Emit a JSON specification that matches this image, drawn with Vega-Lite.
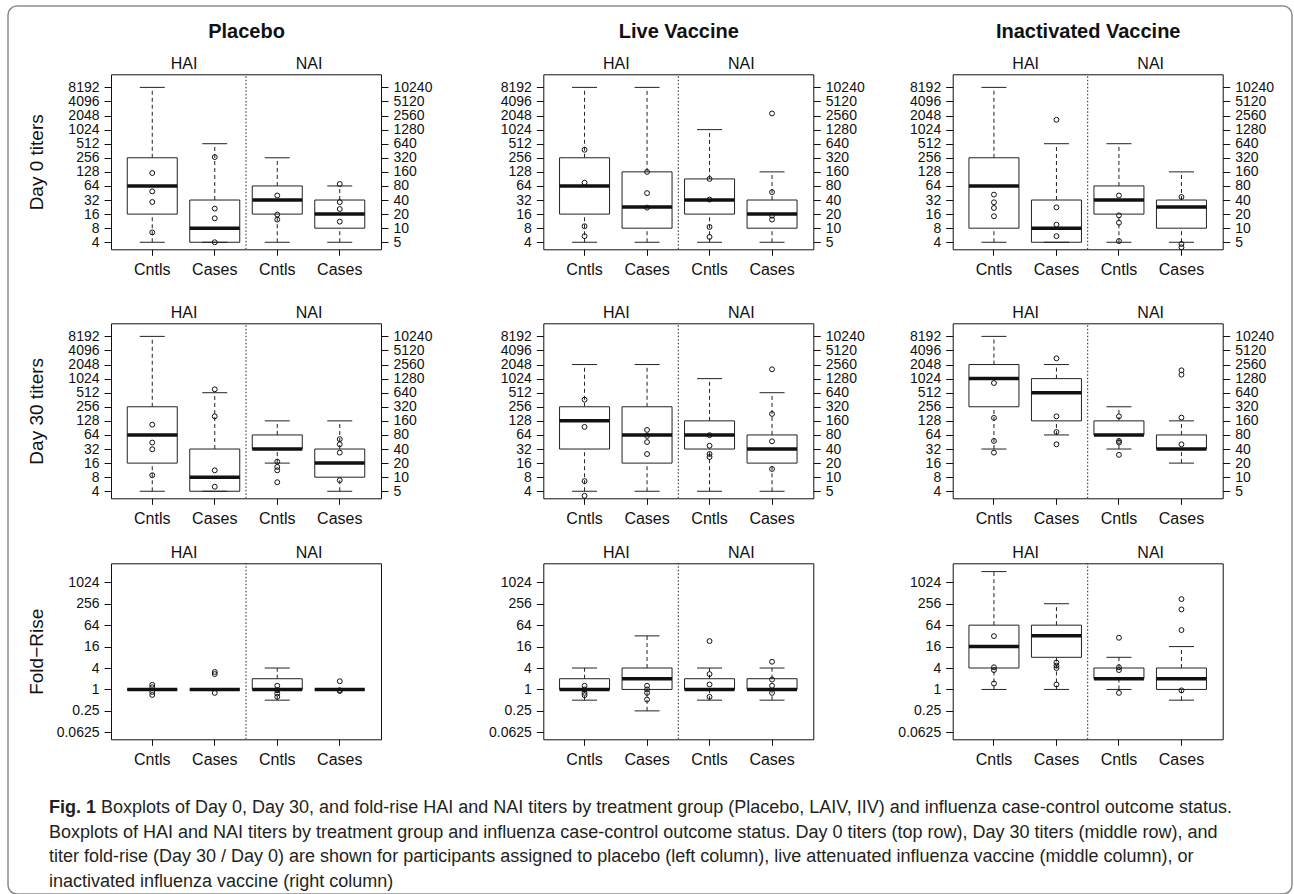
{
"$schema":"https://vega.github.io/schema/vega-lite/v6.json",
"width":1284,"height":888,"autosize":"none",
"padding":{"left":8,"top":6,"right":2,"bottom":0},
"background":"white",
"config":{
 "view":{"stroke":"#8c8c8c","strokeWidth":1.5,"cornerRadius":9},
 "tick":{"opacity":1},
 "point":{"opacity":1},
 "axis":{"grid":false,"labelFont":"Liberation Sans","titleFont":"Liberation Sans","labelColor":"#111","titleColor":"#111","domainColor":"#111","tickColor":"#111","labelOverlap":false,"labelFlush":false,"labelBound":false,"domainWidth":1,"tickWidth":1,"titleFontWeight":"normal"},
 "axisY":{"labelFontSize":14,"tickSize":7,"labelPadding":5},
 "axisX":{"labelFontSize":16,"tickSize":6,"labelPadding":6,"labelAngle":0},
 "text":{"font":"Liberation Sans"}
},
"datasets":{"d":[
{"t":"Placebo","m":"D0","a":"HAI","g":"Cntls","k":"box","lo":4,"q1":16,"med":64,"q3":256,"hi":8192},
{"t":"Placebo","m":"D0","a":"HAI","g":"Cases","k":"box","lo":4,"q1":4,"med":8,"q3":32,"hi":512},
{"t":"Placebo","m":"D0","a":"NAI","g":"Cntls","k":"box","lo":5,"q1":20,"med":40,"q3":80,"hi":320},
{"t":"Placebo","m":"D0","a":"NAI","g":"Cases","k":"box","lo":5,"q1":10,"med":20,"q3":40,"hi":80},
{"t":"Live","m":"D0","a":"HAI","g":"Cntls","k":"box","lo":4,"q1":16,"med":64,"q3":256,"hi":8192},
{"t":"Live","m":"D0","a":"HAI","g":"Cases","k":"box","lo":4,"q1":8,"med":22.6,"q3":128,"hi":8192},
{"t":"Live","m":"D0","a":"NAI","g":"Cntls","k":"box","lo":5,"q1":20,"med":40,"q3":113,"hi":1280},
{"t":"Live","m":"D0","a":"NAI","g":"Cases","k":"box","lo":5,"q1":10,"med":20,"q3":40,"hi":160},
{"t":"Inactivated","m":"D0","a":"HAI","g":"Cntls","k":"box","lo":4,"q1":8,"med":64,"q3":256,"hi":8192},
{"t":"Inactivated","m":"D0","a":"HAI","g":"Cases","k":"box","lo":4,"q1":4,"med":8,"q3":32,"hi":512},
{"t":"Inactivated","m":"D0","a":"NAI","g":"Cntls","k":"box","lo":5,"q1":20,"med":40,"q3":80,"hi":640},
{"t":"Inactivated","m":"D0","a":"NAI","g":"Cases","k":"box","lo":5,"q1":10,"med":28.3,"q3":40,"hi":160},
{"t":"Placebo","m":"D30","a":"HAI","g":"Cntls","k":"box","lo":4,"q1":16,"med":64,"q3":256,"hi":8192},
{"t":"Placebo","m":"D30","a":"HAI","g":"Cases","k":"box","lo":4,"q1":4,"med":8,"q3":32,"hi":512},
{"t":"Placebo","m":"D30","a":"NAI","g":"Cntls","k":"box","lo":20,"q1":40,"med":40,"q3":80,"hi":160},
{"t":"Placebo","m":"D30","a":"NAI","g":"Cases","k":"box","lo":5,"q1":10,"med":20,"q3":40,"hi":160},
{"t":"Live","m":"D30","a":"HAI","g":"Cntls","k":"box","lo":4,"q1":32,"med":128,"q3":256,"hi":2048},
{"t":"Live","m":"D30","a":"HAI","g":"Cases","k":"box","lo":4,"q1":16,"med":64,"q3":256,"hi":2048},
{"t":"Live","m":"D30","a":"NAI","g":"Cntls","k":"box","lo":5,"q1":40,"med":80,"q3":160,"hi":1280},
{"t":"Live","m":"D30","a":"NAI","g":"Cases","k":"box","lo":5,"q1":20,"med":40,"q3":80,"hi":640},
{"t":"Inactivated","m":"D30","a":"HAI","g":"Cntls","k":"box","lo":32,"q1":256,"med":1024,"q3":2048,"hi":8192},
{"t":"Inactivated","m":"D30","a":"HAI","g":"Cases","k":"box","lo":64,"q1":128,"med":512,"q3":1024,"hi":2048},
{"t":"Inactivated","m":"D30","a":"NAI","g":"Cntls","k":"box","lo":40,"q1":80,"med":80,"q3":160,"hi":320},
{"t":"Inactivated","m":"D30","a":"NAI","g":"Cases","k":"box","lo":20,"q1":40,"med":40,"q3":80,"hi":160},
{"t":"Placebo","m":"FR","a":"HAI","g":"Cntls","k":"box","lo":1,"q1":1,"med":1,"q3":1,"hi":1},
{"t":"Placebo","m":"FR","a":"HAI","g":"Cases","k":"box","lo":1,"q1":1,"med":1,"q3":1,"hi":1},
{"t":"Placebo","m":"FR","a":"NAI","g":"Cntls","k":"box","lo":0.5,"q1":1,"med":1,"q3":2,"hi":4},
{"t":"Placebo","m":"FR","a":"NAI","g":"Cases","k":"box","lo":1,"q1":1,"med":1,"q3":1,"hi":1},
{"t":"Live","m":"FR","a":"HAI","g":"Cntls","k":"box","lo":0.5,"q1":1,"med":1,"q3":2,"hi":4},
{"t":"Live","m":"FR","a":"HAI","g":"Cases","k":"box","lo":0.25,"q1":1,"med":2,"q3":4,"hi":32},
{"t":"Live","m":"FR","a":"NAI","g":"Cntls","k":"box","lo":0.5,"q1":1,"med":1,"q3":2,"hi":4},
{"t":"Live","m":"FR","a":"NAI","g":"Cases","k":"box","lo":0.5,"q1":1,"med":1,"q3":2,"hi":4},
{"t":"Inactivated","m":"FR","a":"HAI","g":"Cntls","k":"box","lo":1,"q1":4,"med":16,"q3":64,"hi":2048},
{"t":"Inactivated","m":"FR","a":"HAI","g":"Cases","k":"box","lo":1,"q1":8,"med":32,"q3":64,"hi":256},
{"t":"Inactivated","m":"FR","a":"NAI","g":"Cntls","k":"box","lo":1,"q1":2,"med":2,"q3":4,"hi":8},
{"t":"Inactivated","m":"FR","a":"NAI","g":"Cases","k":"box","lo":0.5,"q1":1,"med":2,"q3":4,"hi":16},
{"t":"Placebo","m":"D0","a":"HAI","g":"Cntls","k":"out","v":121},{"t":"Placebo","m":"D0","a":"HAI","g":"Cntls","k":"out","v":49},{"t":"Placebo","m":"D0","a":"HAI","g":"Cntls","k":"out","v":29},{"t":"Placebo","m":"D0","a":"HAI","g":"Cntls","k":"out","v":6.5},
{"t":"Placebo","m":"D0","a":"HAI","g":"Cases","k":"out","v":265},{"t":"Placebo","m":"D0","a":"HAI","g":"Cases","k":"out","v":21},{"t":"Placebo","m":"D0","a":"HAI","g":"Cases","k":"out","v":13},{"t":"Placebo","m":"D0","a":"HAI","g":"Cases","k":"out","v":4},
{"t":"Placebo","m":"D0","a":"NAI","g":"Cntls","k":"out","v":50},{"t":"Placebo","m":"D0","a":"NAI","g":"Cntls","k":"out","v":19.5},{"t":"Placebo","m":"D0","a":"NAI","g":"Cntls","k":"out","v":15.3},
{"t":"Placebo","m":"D0","a":"NAI","g":"Cases","k":"out","v":88},{"t":"Placebo","m":"D0","a":"NAI","g":"Cases","k":"out","v":36},{"t":"Placebo","m":"D0","a":"NAI","g":"Cases","k":"out","v":25.7},{"t":"Placebo","m":"D0","a":"NAI","g":"Cases","k":"out","v":13.8},
{"t":"Live","m":"D0","a":"HAI","g":"Cntls","k":"out","v":380},{"t":"Live","m":"D0","a":"HAI","g":"Cntls","k":"out","v":75},{"t":"Live","m":"D0","a":"HAI","g":"Cntls","k":"out","v":8.8},{"t":"Live","m":"D0","a":"HAI","g":"Cntls","k":"out","v":5.4},
{"t":"Live","m":"D0","a":"HAI","g":"Cases","k":"out","v":128},{"t":"Live","m":"D0","a":"HAI","g":"Cases","k":"out","v":45},{"t":"Live","m":"D0","a":"HAI","g":"Cases","k":"out","v":22},
{"t":"Live","m":"D0","a":"NAI","g":"Cntls","k":"out","v":113},{"t":"Live","m":"D0","a":"NAI","g":"Cntls","k":"out","v":41},{"t":"Live","m":"D0","a":"NAI","g":"Cntls","k":"out","v":10.6},{"t":"Live","m":"D0","a":"NAI","g":"Cntls","k":"out","v":6.5},
{"t":"Live","m":"D0","a":"NAI","g":"Cases","k":"out","v":2840},{"t":"Live","m":"D0","a":"NAI","g":"Cases","k":"out","v":59},{"t":"Live","m":"D0","a":"NAI","g":"Cases","k":"out","v":18.5},{"t":"Live","m":"D0","a":"NAI","g":"Cases","k":"out","v":15.3},
{"t":"Inactivated","m":"D0","a":"HAI","g":"Cntls","k":"out","v":41.7},{"t":"Inactivated","m":"D0","a":"HAI","g":"Cntls","k":"out","v":28.6},{"t":"Inactivated","m":"D0","a":"HAI","g":"Cntls","k":"out","v":21.6},{"t":"Inactivated","m":"D0","a":"HAI","g":"Cntls","k":"out","v":14.4},
{"t":"Inactivated","m":"D0","a":"HAI","g":"Cases","k":"out","v":1660},{"t":"Inactivated","m":"D0","a":"HAI","g":"Cases","k":"out","v":22.3},{"t":"Inactivated","m":"D0","a":"HAI","g":"Cases","k":"out","v":9.5},{"t":"Inactivated","m":"D0","a":"HAI","g":"Cases","k":"out","v":5.4},
{"t":"Inactivated","m":"D0","a":"NAI","g":"Cntls","k":"out","v":50},{"t":"Inactivated","m":"D0","a":"NAI","g":"Cntls","k":"out","v":18.8},{"t":"Inactivated","m":"D0","a":"NAI","g":"Cntls","k":"out","v":13.1},{"t":"Inactivated","m":"D0","a":"NAI","g":"Cntls","k":"out","v":5.3},
{"t":"Inactivated","m":"D0","a":"NAI","g":"Cases","k":"out","v":46.5},{"t":"Inactivated","m":"D0","a":"NAI","g":"Cases","k":"out","v":4.6},{"t":"Inactivated","m":"D0","a":"NAI","g":"Cases","k":"out","v":3.9},
{"t":"Placebo","m":"D30","a":"HAI","g":"Cntls","k":"out","v":106},{"t":"Placebo","m":"D30","a":"HAI","g":"Cntls","k":"out","v":44},{"t":"Placebo","m":"D30","a":"HAI","g":"Cntls","k":"out","v":31.6},{"t":"Placebo","m":"D30","a":"HAI","g":"Cntls","k":"out","v":8.8},
{"t":"Placebo","m":"D30","a":"HAI","g":"Cases","k":"out","v":605},{"t":"Placebo","m":"D30","a":"HAI","g":"Cases","k":"out","v":160},{"t":"Placebo","m":"D30","a":"HAI","g":"Cases","k":"out","v":11.2},{"t":"Placebo","m":"D30","a":"HAI","g":"Cases","k":"out","v":5},
{"t":"Placebo","m":"D30","a":"NAI","g":"Cntls","k":"out","v":21.5},{"t":"Placebo","m":"D30","a":"NAI","g":"Cntls","k":"out","v":16.6},{"t":"Placebo","m":"D30","a":"NAI","g":"Cntls","k":"out","v":14},{"t":"Placebo","m":"D30","a":"NAI","g":"Cntls","k":"out","v":7.8},
{"t":"Placebo","m":"D30","a":"NAI","g":"Cases","k":"out","v":65},{"t":"Placebo","m":"D30","a":"NAI","g":"Cases","k":"out","v":50.5},{"t":"Placebo","m":"D30","a":"NAI","g":"Cases","k":"out","v":33.5},{"t":"Placebo","m":"D30","a":"NAI","g":"Cases","k":"out","v":8.6},
{"t":"Live","m":"D30","a":"HAI","g":"Cntls","k":"out","v":364},{"t":"Live","m":"D30","a":"HAI","g":"Cntls","k":"out","v":95},{"t":"Live","m":"D30","a":"HAI","g":"Cntls","k":"out","v":6.6},{"t":"Live","m":"D30","a":"HAI","g":"Cntls","k":"out","v":3.2},
{"t":"Live","m":"D30","a":"HAI","g":"Cases","k":"out","v":82},{"t":"Live","m":"D30","a":"HAI","g":"Cases","k":"out","v":61},{"t":"Live","m":"D30","a":"HAI","g":"Cases","k":"out","v":45},{"t":"Live","m":"D30","a":"HAI","g":"Cases","k":"out","v":25},
{"t":"Live","m":"D30","a":"NAI","g":"Cntls","k":"out","v":79},{"t":"Live","m":"D30","a":"NAI","g":"Cntls","k":"out","v":47},{"t":"Live","m":"D30","a":"NAI","g":"Cntls","k":"out","v":31.3},{"t":"Live","m":"D30","a":"NAI","g":"Cntls","k":"out","v":27},
{"t":"Live","m":"D30","a":"NAI","g":"Cases","k":"out","v":2025},{"t":"Live","m":"D30","a":"NAI","g":"Cases","k":"out","v":225},{"t":"Live","m":"D30","a":"NAI","g":"Cases","k":"out","v":58.5},{"t":"Live","m":"D30","a":"NAI","g":"Cases","k":"out","v":15},
{"t":"Inactivated","m":"D30","a":"HAI","g":"Cntls","k":"out","v":825},{"t":"Inactivated","m":"D30","a":"HAI","g":"Cntls","k":"out","v":148},{"t":"Inactivated","m":"D30","a":"HAI","g":"Cntls","k":"out","v":47.6},{"t":"Inactivated","m":"D30","a":"HAI","g":"Cntls","k":"out","v":26.8},
{"t":"Inactivated","m":"D30","a":"HAI","g":"Cases","k":"out","v":2780},{"t":"Inactivated","m":"D30","a":"HAI","g":"Cases","k":"out","v":160},{"t":"Inactivated","m":"D30","a":"HAI","g":"Cases","k":"out","v":74},{"t":"Inactivated","m":"D30","a":"HAI","g":"Cases","k":"out","v":40.4},
{"t":"Inactivated","m":"D30","a":"NAI","g":"Cntls","k":"out","v":200},{"t":"Inactivated","m":"D30","a":"NAI","g":"Cntls","k":"out","v":59.5},{"t":"Inactivated","m":"D30","a":"NAI","g":"Cntls","k":"out","v":55},{"t":"Inactivated","m":"D30","a":"NAI","g":"Cntls","k":"out","v":30},
{"t":"Inactivated","m":"D30","a":"NAI","g":"Cases","k":"out","v":1925},{"t":"Inactivated","m":"D30","a":"NAI","g":"Cases","k":"out","v":1556},{"t":"Inactivated","m":"D30","a":"NAI","g":"Cases","k":"out","v":188},{"t":"Inactivated","m":"D30","a":"NAI","g":"Cases","k":"out","v":50.5},
{"t":"Placebo","m":"FR","a":"HAI","g":"Cntls","k":"out","v":1.35},{"t":"Placebo","m":"FR","a":"HAI","g":"Cntls","k":"out","v":1.15},{"t":"Placebo","m":"FR","a":"HAI","g":"Cntls","k":"out","v":0.85},{"t":"Placebo","m":"FR","a":"HAI","g":"Cntls","k":"out","v":0.7},
{"t":"Placebo","m":"FR","a":"HAI","g":"Cases","k":"out","v":3.1},{"t":"Placebo","m":"FR","a":"HAI","g":"Cases","k":"out","v":2.7},{"t":"Placebo","m":"FR","a":"HAI","g":"Cases","k":"out","v":0.8},
{"t":"Placebo","m":"FR","a":"NAI","g":"Cntls","k":"out","v":1.27},{"t":"Placebo","m":"FR","a":"NAI","g":"Cntls","k":"out","v":0.95},{"t":"Placebo","m":"FR","a":"NAI","g":"Cntls","k":"out","v":0.77},{"t":"Placebo","m":"FR","a":"NAI","g":"Cntls","k":"out","v":0.62},
{"t":"Placebo","m":"FR","a":"NAI","g":"Cases","k":"out","v":1.7},{"t":"Placebo","m":"FR","a":"NAI","g":"Cases","k":"out","v":0.95},{"t":"Placebo","m":"FR","a":"NAI","g":"Cases","k":"out","v":0.9},
{"t":"Live","m":"FR","a":"HAI","g":"Cntls","k":"out","v":1.27},{"t":"Live","m":"FR","a":"HAI","g":"Cntls","k":"out","v":1},{"t":"Live","m":"FR","a":"HAI","g":"Cntls","k":"out","v":0.8},{"t":"Live","m":"FR","a":"HAI","g":"Cntls","k":"out","v":0.69},
{"t":"Live","m":"FR","a":"HAI","g":"Cases","k":"out","v":1.27},{"t":"Live","m":"FR","a":"HAI","g":"Cases","k":"out","v":1},{"t":"Live","m":"FR","a":"HAI","g":"Cases","k":"out","v":0.8},{"t":"Live","m":"FR","a":"HAI","g":"Cases","k":"out","v":0.52},
{"t":"Live","m":"FR","a":"NAI","g":"Cntls","k":"out","v":22.8},{"t":"Live","m":"FR","a":"NAI","g":"Cntls","k":"out","v":2.7},{"t":"Live","m":"FR","a":"NAI","g":"Cntls","k":"out","v":1.38},{"t":"Live","m":"FR","a":"NAI","g":"Cntls","k":"out","v":0.62},
{"t":"Live","m":"FR","a":"NAI","g":"Cases","k":"out","v":6},{"t":"Live","m":"FR","a":"NAI","g":"Cases","k":"out","v":1.9},{"t":"Live","m":"FR","a":"NAI","g":"Cases","k":"out","v":1.27},{"t":"Live","m":"FR","a":"NAI","g":"Cases","k":"out","v":0.8},
{"t":"Inactivated","m":"FR","a":"HAI","g":"Cntls","k":"out","v":31.5},{"t":"Inactivated","m":"FR","a":"HAI","g":"Cntls","k":"out","v":4.2},{"t":"Inactivated","m":"FR","a":"HAI","g":"Cntls","k":"out","v":3.5},{"t":"Inactivated","m":"FR","a":"HAI","g":"Cntls","k":"out","v":1.47},
{"t":"Inactivated","m":"FR","a":"HAI","g":"Cases","k":"out","v":5.7},{"t":"Inactivated","m":"FR","a":"HAI","g":"Cases","k":"out","v":4.7},{"t":"Inactivated","m":"FR","a":"HAI","g":"Cases","k":"out","v":4},{"t":"Inactivated","m":"FR","a":"HAI","g":"Cases","k":"out","v":1.38},
{"t":"Inactivated","m":"FR","a":"NAI","g":"Cntls","k":"out","v":28.3},{"t":"Inactivated","m":"FR","a":"NAI","g":"Cntls","k":"out","v":4.2},{"t":"Inactivated","m":"FR","a":"NAI","g":"Cntls","k":"out","v":3.5},{"t":"Inactivated","m":"FR","a":"NAI","g":"Cntls","k":"out","v":0.8},
{"t":"Inactivated","m":"FR","a":"NAI","g":"Cases","k":"out","v":345},{"t":"Inactivated","m":"FR","a":"NAI","g":"Cases","k":"out","v":177},{"t":"Inactivated","m":"FR","a":"NAI","g":"Cases","k":"out","v":46.5},{"t":"Inactivated","m":"FR","a":"NAI","g":"Cases","k":"out","v":0.94}
]},
"data":{"name":"d"},
"resolve":{"scale":{"x":"independent","y":"independent"}},
"layer":[
{"transform":[{"filter":"datum.t=='Placebo' && datum.m=='D0'"}],"resolve":{"scale":{"x":"independent","y":"independent"}},"layer":[
 {"transform":[{"filter":"datum.a=='HAI'"}],"encoding":{
  "x":{"field":"g","type":"nominal","scale":{"type":"band","domain":["Cntls","Cases"],"range":[103,238],"paddingInner":0,"paddingOuter":0.08,"align":1},"axis":{"orient":"bottom","offset":-644.7,"title":null}},
  "y":{"field":"med","type":"quantitative","scale":{"type":"log","base":2,"domain":[2.828,15600],"range":[243.3,68.3],"nice":false,"zero":false},"axis":{"orient":"left","offset":-103,"values":[4,8,16,32,64,128,256,512,1024,2048,4096,8192],"labelExpr":"''+datum.value","title":"Day 0 titers","titleX":-75,"titleAngle":-90,"titleBaseline":"middle","titleAlign":"center","titleFontSize":19}}},
  "layer":[{"transform":[{"filter":"datum.k=='box'"}],"layer":[
   {"mark":{"type":"rule","strokeDash":[4,3],"color":"#222"},"encoding":{"y":{"field":"lo"},"y2":{"field":"q1"}}},
   {"mark":{"type":"rule","strokeDash":[4,3],"color":"#222"},"encoding":{"y":{"field":"q3"},"y2":{"field":"hi"}}},
   {"mark":{"type":"bar","width":50,"fill":"white","stroke":"#222","strokeWidth":1},"encoding":{"y":{"field":"q1"},"y2":{"field":"q3"}}},
   {"mark":{"type":"tick","size":25,"thickness":1,"color":"#222","opacity":1},"encoding":{"y":{"field":"lo"}}},
   {"mark":{"type":"tick","size":25,"thickness":1,"color":"#222","opacity":1},"encoding":{"y":{"field":"hi"}}},
   {"mark":{"type":"tick","size":50,"thickness":3.5,"color":"#111","opacity":1},"encoding":{"y":{"field":"med"}}}]},
   {"transform":[{"filter":"datum.k=='out'"}],"mark":{"type":"point","shape":"circle","filled":false,"size":24,"strokeWidth":1,"color":"#111","opacity":1},"encoding":{"y":{"field":"v"}}}]},
 {"transform":[{"filter":"datum.a=='NAI'"}],"encoding":{
  "x":{"field":"g","type":"nominal","scale":{"type":"band","domain":["Cntls","Cases"],"range":[238,373],"paddingInner":0,"paddingOuter":0.08,"align":0},"axis":{"orient":"bottom","offset":-644.7,"title":null}},
  "y":{"field":"med","type":"quantitative","scale":{"type":"log","base":2,"domain":[3.536,19500],"range":[243.3,68.3],"nice":false,"zero":false},"axis":{"orient":"right","offset":-911,"values":[5,10,20,40,80,160,320,640,1280,2560,5120,10240],"labelExpr":"''+datum.value","title":null}}},
  "layer":[{"transform":[{"filter":"datum.k=='box'"}],"layer":[
   {"mark":{"type":"rule","strokeDash":[4,3],"color":"#222"},"encoding":{"y":{"field":"lo"},"y2":{"field":"q1"}}},
   {"mark":{"type":"rule","strokeDash":[4,3],"color":"#222"},"encoding":{"y":{"field":"q3"},"y2":{"field":"hi"}}},
   {"mark":{"type":"bar","width":50,"fill":"white","stroke":"#222","strokeWidth":1},"encoding":{"y":{"field":"q1"},"y2":{"field":"q3"}}},
   {"mark":{"type":"tick","size":25,"thickness":1,"color":"#222","opacity":1},"encoding":{"y":{"field":"lo"}}},
   {"mark":{"type":"tick","size":25,"thickness":1,"color":"#222","opacity":1},"encoding":{"y":{"field":"hi"}}},
   {"mark":{"type":"tick","size":50,"thickness":3.5,"color":"#111","opacity":1},"encoding":{"y":{"field":"med"}}}]},
   {"transform":[{"filter":"datum.k=='out'"}],"mark":{"type":"point","shape":"circle","filled":false,"size":24,"strokeWidth":1,"color":"#111","opacity":1},"encoding":{"y":{"field":"v"}}}]},
 {"data":{"values":[{}]},"mark":{"type":"rule","strokeDash":[1.5,2],"color":"#222","strokeWidth":1},"encoding":{
  "x":{"datum":2.5,"type":"quantitative","scale":{"domain":[0.34,4.66],"range":[103,373],"nice":false,"zero":false},"axis":{"orient":"top","offset":-68.3,"values":[1.5,3.5],"labelExpr":"datum.value < 2.5 ? 'HAI' : 'NAI'","ticks":false,"tickSize":0,"labelPadding":6,"labelBaseline":"alphabetic","labelFontSize":16,"title":"Placebo","titleFontSize":20,"titleFontWeight":"bold","titleY":-37,"titleBaseline":"alphabetic"}},
  "y":{"datum":0,"type":"quantitative","scale":{"domain":[0,1],"range":[243.3,68.3],"nice":false,"zero":false},"axis":null},
  "y2":{"datum":1}}}
]},
{"transform":[{"filter":"datum.t=='Live' && datum.m=='D0'"}],"resolve":{"scale":{"x":"independent","y":"independent"}},"layer":[
 {"transform":[{"filter":"datum.a=='HAI'"}],"encoding":{
  "x":{"field":"g","type":"nominal","scale":{"type":"band","domain":["Cntls","Cases"],"range":[535.3,670.3],"paddingInner":0,"paddingOuter":0.08,"align":1},"axis":{"orient":"bottom","offset":-644.7,"title":null}},
  "y":{"field":"med","type":"quantitative","scale":{"type":"log","base":2,"domain":[2.828,15600],"range":[243.3,68.3],"nice":false,"zero":false},"axis":{"orient":"left","offset":-535.3,"values":[4,8,16,32,64,128,256,512,1024,2048,4096,8192],"labelExpr":"''+datum.value","title":null}}},
  "layer":[{"transform":[{"filter":"datum.k=='box'"}],"layer":[
   {"mark":{"type":"rule","strokeDash":[4,3],"color":"#222"},"encoding":{"y":{"field":"lo"},"y2":{"field":"q1"}}},
   {"mark":{"type":"rule","strokeDash":[4,3],"color":"#222"},"encoding":{"y":{"field":"q3"},"y2":{"field":"hi"}}},
   {"mark":{"type":"bar","width":50,"fill":"white","stroke":"#222","strokeWidth":1},"encoding":{"y":{"field":"q1"},"y2":{"field":"q3"}}},
   {"mark":{"type":"tick","size":25,"thickness":1,"color":"#222","opacity":1},"encoding":{"y":{"field":"lo"}}},
   {"mark":{"type":"tick","size":25,"thickness":1,"color":"#222","opacity":1},"encoding":{"y":{"field":"hi"}}},
   {"mark":{"type":"tick","size":50,"thickness":3.5,"color":"#111","opacity":1},"encoding":{"y":{"field":"med"}}}]},
   {"transform":[{"filter":"datum.k=='out'"}],"mark":{"type":"point","shape":"circle","filled":false,"size":24,"strokeWidth":1,"color":"#111","opacity":1},"encoding":{"y":{"field":"v"}}}]},
 {"transform":[{"filter":"datum.a=='NAI'"}],"encoding":{
  "x":{"field":"g","type":"nominal","scale":{"type":"band","domain":["Cntls","Cases"],"range":[670.3,805.3],"paddingInner":0,"paddingOuter":0.08,"align":0},"axis":{"orient":"bottom","offset":-644.7,"title":null}},
  "y":{"field":"med","type":"quantitative","scale":{"type":"log","base":2,"domain":[3.536,19500],"range":[243.3,68.3],"nice":false,"zero":false},"axis":{"orient":"right","offset":-478.7,"values":[5,10,20,40,80,160,320,640,1280,2560,5120,10240],"labelExpr":"''+datum.value","title":null}}},
  "layer":[{"transform":[{"filter":"datum.k=='box'"}],"layer":[
   {"mark":{"type":"rule","strokeDash":[4,3],"color":"#222"},"encoding":{"y":{"field":"lo"},"y2":{"field":"q1"}}},
   {"mark":{"type":"rule","strokeDash":[4,3],"color":"#222"},"encoding":{"y":{"field":"q3"},"y2":{"field":"hi"}}},
   {"mark":{"type":"bar","width":50,"fill":"white","stroke":"#222","strokeWidth":1},"encoding":{"y":{"field":"q1"},"y2":{"field":"q3"}}},
   {"mark":{"type":"tick","size":25,"thickness":1,"color":"#222","opacity":1},"encoding":{"y":{"field":"lo"}}},
   {"mark":{"type":"tick","size":25,"thickness":1,"color":"#222","opacity":1},"encoding":{"y":{"field":"hi"}}},
   {"mark":{"type":"tick","size":50,"thickness":3.5,"color":"#111","opacity":1},"encoding":{"y":{"field":"med"}}}]},
   {"transform":[{"filter":"datum.k=='out'"}],"mark":{"type":"point","shape":"circle","filled":false,"size":24,"strokeWidth":1,"color":"#111","opacity":1},"encoding":{"y":{"field":"v"}}}]},
 {"data":{"values":[{}]},"mark":{"type":"rule","strokeDash":[1.5,2],"color":"#222","strokeWidth":1},"encoding":{
  "x":{"datum":2.5,"type":"quantitative","scale":{"domain":[0.34,4.66],"range":[535.3,805.3],"nice":false,"zero":false},"axis":{"orient":"top","offset":-68.3,"values":[1.5,3.5],"labelExpr":"datum.value < 2.5 ? 'HAI' : 'NAI'","ticks":false,"tickSize":0,"labelPadding":6,"labelBaseline":"alphabetic","labelFontSize":16,"title":"Live Vaccine","titleFontSize":20,"titleFontWeight":"bold","titleY":-37,"titleBaseline":"alphabetic"}},
  "y":{"datum":0,"type":"quantitative","scale":{"domain":[0,1],"range":[243.3,68.3],"nice":false,"zero":false},"axis":null},
  "y2":{"datum":1}}}
]},
{"transform":[{"filter":"datum.t=='Inactivated' && datum.m=='D0'"}],"resolve":{"scale":{"x":"independent","y":"independent"}},"layer":[
 {"transform":[{"filter":"datum.a=='HAI'"}],"encoding":{
  "x":{"field":"g","type":"nominal","scale":{"type":"band","domain":["Cntls","Cases"],"range":[944.7,1079.7],"paddingInner":0,"paddingOuter":0.08,"align":1},"axis":{"orient":"bottom","offset":-644.7,"title":null}},
  "y":{"field":"med","type":"quantitative","scale":{"type":"log","base":2,"domain":[2.828,15600],"range":[243.3,68.3],"nice":false,"zero":false},"axis":{"orient":"left","offset":-944.7,"values":[4,8,16,32,64,128,256,512,1024,2048,4096,8192],"labelExpr":"''+datum.value","title":null}}},
  "layer":[{"transform":[{"filter":"datum.k=='box'"}],"layer":[
   {"mark":{"type":"rule","strokeDash":[4,3],"color":"#222"},"encoding":{"y":{"field":"lo"},"y2":{"field":"q1"}}},
   {"mark":{"type":"rule","strokeDash":[4,3],"color":"#222"},"encoding":{"y":{"field":"q3"},"y2":{"field":"hi"}}},
   {"mark":{"type":"bar","width":50,"fill":"white","stroke":"#222","strokeWidth":1},"encoding":{"y":{"field":"q1"},"y2":{"field":"q3"}}},
   {"mark":{"type":"tick","size":25,"thickness":1,"color":"#222","opacity":1},"encoding":{"y":{"field":"lo"}}},
   {"mark":{"type":"tick","size":25,"thickness":1,"color":"#222","opacity":1},"encoding":{"y":{"field":"hi"}}},
   {"mark":{"type":"tick","size":50,"thickness":3.5,"color":"#111","opacity":1},"encoding":{"y":{"field":"med"}}}]},
   {"transform":[{"filter":"datum.k=='out'"}],"mark":{"type":"point","shape":"circle","filled":false,"size":24,"strokeWidth":1,"color":"#111","opacity":1},"encoding":{"y":{"field":"v"}}}]},
 {"transform":[{"filter":"datum.a=='NAI'"}],"encoding":{
  "x":{"field":"g","type":"nominal","scale":{"type":"band","domain":["Cntls","Cases"],"range":[1079.7,1214.7],"paddingInner":0,"paddingOuter":0.08,"align":0},"axis":{"orient":"bottom","offset":-644.7,"title":null}},
  "y":{"field":"med","type":"quantitative","scale":{"type":"log","base":2,"domain":[3.536,19500],"range":[243.3,68.3],"nice":false,"zero":false},"axis":{"orient":"right","offset":-69.3,"values":[5,10,20,40,80,160,320,640,1280,2560,5120,10240],"labelExpr":"''+datum.value","title":null}}},
  "layer":[{"transform":[{"filter":"datum.k=='box'"}],"layer":[
   {"mark":{"type":"rule","strokeDash":[4,3],"color":"#222"},"encoding":{"y":{"field":"lo"},"y2":{"field":"q1"}}},
   {"mark":{"type":"rule","strokeDash":[4,3],"color":"#222"},"encoding":{"y":{"field":"q3"},"y2":{"field":"hi"}}},
   {"mark":{"type":"bar","width":50,"fill":"white","stroke":"#222","strokeWidth":1},"encoding":{"y":{"field":"q1"},"y2":{"field":"q3"}}},
   {"mark":{"type":"tick","size":25,"thickness":1,"color":"#222","opacity":1},"encoding":{"y":{"field":"lo"}}},
   {"mark":{"type":"tick","size":25,"thickness":1,"color":"#222","opacity":1},"encoding":{"y":{"field":"hi"}}},
   {"mark":{"type":"tick","size":50,"thickness":3.5,"color":"#111","opacity":1},"encoding":{"y":{"field":"med"}}}]},
   {"transform":[{"filter":"datum.k=='out'"}],"mark":{"type":"point","shape":"circle","filled":false,"size":24,"strokeWidth":1,"color":"#111","opacity":1},"encoding":{"y":{"field":"v"}}}]},
 {"data":{"values":[{}]},"mark":{"type":"rule","strokeDash":[1.5,2],"color":"#222","strokeWidth":1},"encoding":{
  "x":{"datum":2.5,"type":"quantitative","scale":{"domain":[0.34,4.66],"range":[944.7,1214.7],"nice":false,"zero":false},"axis":{"orient":"top","offset":-68.3,"values":[1.5,3.5],"labelExpr":"datum.value < 2.5 ? 'HAI' : 'NAI'","ticks":false,"tickSize":0,"labelPadding":6,"labelBaseline":"alphabetic","labelFontSize":16,"title":"Inactivated Vaccine","titleFontSize":20,"titleFontWeight":"bold","titleY":-37,"titleBaseline":"alphabetic"}},
  "y":{"datum":0,"type":"quantitative","scale":{"domain":[0,1],"range":[243.3,68.3],"nice":false,"zero":false},"axis":null},
  "y2":{"datum":1}}}
]},
{"transform":[{"filter":"datum.t=='Placebo' && datum.m=='D30'"}],"resolve":{"scale":{"x":"independent","y":"independent"}},"layer":[
 {"transform":[{"filter":"datum.a=='HAI'"}],"encoding":{
  "x":{"field":"g","type":"nominal","scale":{"type":"band","domain":["Cntls","Cases"],"range":[103,238],"paddingInner":0,"paddingOuter":0.08,"align":1},"axis":{"orient":"bottom","offset":-395.7,"title":null}},
  "y":{"field":"med","type":"quantitative","scale":{"type":"log","base":2,"domain":[2.828,15600],"range":[492.3,317.3],"nice":false,"zero":false},"axis":{"orient":"left","offset":-103,"values":[4,8,16,32,64,128,256,512,1024,2048,4096,8192],"labelExpr":"''+datum.value","title":"Day 30 titers","titleX":-75,"titleAngle":-90,"titleBaseline":"middle","titleAlign":"center","titleFontSize":19}}},
  "layer":[{"transform":[{"filter":"datum.k=='box'"}],"layer":[
   {"mark":{"type":"rule","strokeDash":[4,3],"color":"#222"},"encoding":{"y":{"field":"lo"},"y2":{"field":"q1"}}},
   {"mark":{"type":"rule","strokeDash":[4,3],"color":"#222"},"encoding":{"y":{"field":"q3"},"y2":{"field":"hi"}}},
   {"mark":{"type":"bar","width":50,"fill":"white","stroke":"#222","strokeWidth":1},"encoding":{"y":{"field":"q1"},"y2":{"field":"q3"}}},
   {"mark":{"type":"tick","size":25,"thickness":1,"color":"#222","opacity":1},"encoding":{"y":{"field":"lo"}}},
   {"mark":{"type":"tick","size":25,"thickness":1,"color":"#222","opacity":1},"encoding":{"y":{"field":"hi"}}},
   {"mark":{"type":"tick","size":50,"thickness":3.5,"color":"#111","opacity":1},"encoding":{"y":{"field":"med"}}}]},
   {"transform":[{"filter":"datum.k=='out'"}],"mark":{"type":"point","shape":"circle","filled":false,"size":24,"strokeWidth":1,"color":"#111","opacity":1},"encoding":{"y":{"field":"v"}}}]},
 {"transform":[{"filter":"datum.a=='NAI'"}],"encoding":{
  "x":{"field":"g","type":"nominal","scale":{"type":"band","domain":["Cntls","Cases"],"range":[238,373],"paddingInner":0,"paddingOuter":0.08,"align":0},"axis":{"orient":"bottom","offset":-395.7,"title":null}},
  "y":{"field":"med","type":"quantitative","scale":{"type":"log","base":2,"domain":[3.536,19500],"range":[492.3,317.3],"nice":false,"zero":false},"axis":{"orient":"right","offset":-911,"values":[5,10,20,40,80,160,320,640,1280,2560,5120,10240],"labelExpr":"''+datum.value","title":null}}},
  "layer":[{"transform":[{"filter":"datum.k=='box'"}],"layer":[
   {"mark":{"type":"rule","strokeDash":[4,3],"color":"#222"},"encoding":{"y":{"field":"lo"},"y2":{"field":"q1"}}},
   {"mark":{"type":"rule","strokeDash":[4,3],"color":"#222"},"encoding":{"y":{"field":"q3"},"y2":{"field":"hi"}}},
   {"mark":{"type":"bar","width":50,"fill":"white","stroke":"#222","strokeWidth":1},"encoding":{"y":{"field":"q1"},"y2":{"field":"q3"}}},
   {"mark":{"type":"tick","size":25,"thickness":1,"color":"#222","opacity":1},"encoding":{"y":{"field":"lo"}}},
   {"mark":{"type":"tick","size":25,"thickness":1,"color":"#222","opacity":1},"encoding":{"y":{"field":"hi"}}},
   {"mark":{"type":"tick","size":50,"thickness":3.5,"color":"#111","opacity":1},"encoding":{"y":{"field":"med"}}}]},
   {"transform":[{"filter":"datum.k=='out'"}],"mark":{"type":"point","shape":"circle","filled":false,"size":24,"strokeWidth":1,"color":"#111","opacity":1},"encoding":{"y":{"field":"v"}}}]},
 {"data":{"values":[{}]},"mark":{"type":"rule","strokeDash":[1.5,2],"color":"#222","strokeWidth":1},"encoding":{
  "x":{"datum":2.5,"type":"quantitative","scale":{"domain":[0.34,4.66],"range":[103,373],"nice":false,"zero":false},"axis":{"orient":"top","offset":-317.3,"values":[1.5,3.5],"labelExpr":"datum.value < 2.5 ? 'HAI' : 'NAI'","ticks":false,"tickSize":0,"labelPadding":6,"labelBaseline":"alphabetic","labelFontSize":16,"title":null}},
  "y":{"datum":0,"type":"quantitative","scale":{"domain":[0,1],"range":[492.3,317.3],"nice":false,"zero":false},"axis":null},
  "y2":{"datum":1}}}
]},
{"transform":[{"filter":"datum.t=='Live' && datum.m=='D30'"}],"resolve":{"scale":{"x":"independent","y":"independent"}},"layer":[
 {"transform":[{"filter":"datum.a=='HAI'"}],"encoding":{
  "x":{"field":"g","type":"nominal","scale":{"type":"band","domain":["Cntls","Cases"],"range":[535.3,670.3],"paddingInner":0,"paddingOuter":0.08,"align":1},"axis":{"orient":"bottom","offset":-395.7,"title":null}},
  "y":{"field":"med","type":"quantitative","scale":{"type":"log","base":2,"domain":[2.828,15600],"range":[492.3,317.3],"nice":false,"zero":false},"axis":{"orient":"left","offset":-535.3,"values":[4,8,16,32,64,128,256,512,1024,2048,4096,8192],"labelExpr":"''+datum.value","title":null}}},
  "layer":[{"transform":[{"filter":"datum.k=='box'"}],"layer":[
   {"mark":{"type":"rule","strokeDash":[4,3],"color":"#222"},"encoding":{"y":{"field":"lo"},"y2":{"field":"q1"}}},
   {"mark":{"type":"rule","strokeDash":[4,3],"color":"#222"},"encoding":{"y":{"field":"q3"},"y2":{"field":"hi"}}},
   {"mark":{"type":"bar","width":50,"fill":"white","stroke":"#222","strokeWidth":1},"encoding":{"y":{"field":"q1"},"y2":{"field":"q3"}}},
   {"mark":{"type":"tick","size":25,"thickness":1,"color":"#222","opacity":1},"encoding":{"y":{"field":"lo"}}},
   {"mark":{"type":"tick","size":25,"thickness":1,"color":"#222","opacity":1},"encoding":{"y":{"field":"hi"}}},
   {"mark":{"type":"tick","size":50,"thickness":3.5,"color":"#111","opacity":1},"encoding":{"y":{"field":"med"}}}]},
   {"transform":[{"filter":"datum.k=='out'"}],"mark":{"type":"point","shape":"circle","filled":false,"size":24,"strokeWidth":1,"color":"#111","opacity":1},"encoding":{"y":{"field":"v"}}}]},
 {"transform":[{"filter":"datum.a=='NAI'"}],"encoding":{
  "x":{"field":"g","type":"nominal","scale":{"type":"band","domain":["Cntls","Cases"],"range":[670.3,805.3],"paddingInner":0,"paddingOuter":0.08,"align":0},"axis":{"orient":"bottom","offset":-395.7,"title":null}},
  "y":{"field":"med","type":"quantitative","scale":{"type":"log","base":2,"domain":[3.536,19500],"range":[492.3,317.3],"nice":false,"zero":false},"axis":{"orient":"right","offset":-478.7,"values":[5,10,20,40,80,160,320,640,1280,2560,5120,10240],"labelExpr":"''+datum.value","title":null}}},
  "layer":[{"transform":[{"filter":"datum.k=='box'"}],"layer":[
   {"mark":{"type":"rule","strokeDash":[4,3],"color":"#222"},"encoding":{"y":{"field":"lo"},"y2":{"field":"q1"}}},
   {"mark":{"type":"rule","strokeDash":[4,3],"color":"#222"},"encoding":{"y":{"field":"q3"},"y2":{"field":"hi"}}},
   {"mark":{"type":"bar","width":50,"fill":"white","stroke":"#222","strokeWidth":1},"encoding":{"y":{"field":"q1"},"y2":{"field":"q3"}}},
   {"mark":{"type":"tick","size":25,"thickness":1,"color":"#222","opacity":1},"encoding":{"y":{"field":"lo"}}},
   {"mark":{"type":"tick","size":25,"thickness":1,"color":"#222","opacity":1},"encoding":{"y":{"field":"hi"}}},
   {"mark":{"type":"tick","size":50,"thickness":3.5,"color":"#111","opacity":1},"encoding":{"y":{"field":"med"}}}]},
   {"transform":[{"filter":"datum.k=='out'"}],"mark":{"type":"point","shape":"circle","filled":false,"size":24,"strokeWidth":1,"color":"#111","opacity":1},"encoding":{"y":{"field":"v"}}}]},
 {"data":{"values":[{}]},"mark":{"type":"rule","strokeDash":[1.5,2],"color":"#222","strokeWidth":1},"encoding":{
  "x":{"datum":2.5,"type":"quantitative","scale":{"domain":[0.34,4.66],"range":[535.3,805.3],"nice":false,"zero":false},"axis":{"orient":"top","offset":-317.3,"values":[1.5,3.5],"labelExpr":"datum.value < 2.5 ? 'HAI' : 'NAI'","ticks":false,"tickSize":0,"labelPadding":6,"labelBaseline":"alphabetic","labelFontSize":16,"title":null}},
  "y":{"datum":0,"type":"quantitative","scale":{"domain":[0,1],"range":[492.3,317.3],"nice":false,"zero":false},"axis":null},
  "y2":{"datum":1}}}
]},
{"transform":[{"filter":"datum.t=='Inactivated' && datum.m=='D30'"}],"resolve":{"scale":{"x":"independent","y":"independent"}},"layer":[
 {"transform":[{"filter":"datum.a=='HAI'"}],"encoding":{
  "x":{"field":"g","type":"nominal","scale":{"type":"band","domain":["Cntls","Cases"],"range":[944.7,1079.7],"paddingInner":0,"paddingOuter":0.08,"align":1},"axis":{"orient":"bottom","offset":-395.7,"title":null}},
  "y":{"field":"med","type":"quantitative","scale":{"type":"log","base":2,"domain":[2.828,15600],"range":[492.3,317.3],"nice":false,"zero":false},"axis":{"orient":"left","offset":-944.7,"values":[4,8,16,32,64,128,256,512,1024,2048,4096,8192],"labelExpr":"''+datum.value","title":null}}},
  "layer":[{"transform":[{"filter":"datum.k=='box'"}],"layer":[
   {"mark":{"type":"rule","strokeDash":[4,3],"color":"#222"},"encoding":{"y":{"field":"lo"},"y2":{"field":"q1"}}},
   {"mark":{"type":"rule","strokeDash":[4,3],"color":"#222"},"encoding":{"y":{"field":"q3"},"y2":{"field":"hi"}}},
   {"mark":{"type":"bar","width":50,"fill":"white","stroke":"#222","strokeWidth":1},"encoding":{"y":{"field":"q1"},"y2":{"field":"q3"}}},
   {"mark":{"type":"tick","size":25,"thickness":1,"color":"#222","opacity":1},"encoding":{"y":{"field":"lo"}}},
   {"mark":{"type":"tick","size":25,"thickness":1,"color":"#222","opacity":1},"encoding":{"y":{"field":"hi"}}},
   {"mark":{"type":"tick","size":50,"thickness":3.5,"color":"#111","opacity":1},"encoding":{"y":{"field":"med"}}}]},
   {"transform":[{"filter":"datum.k=='out'"}],"mark":{"type":"point","shape":"circle","filled":false,"size":24,"strokeWidth":1,"color":"#111","opacity":1},"encoding":{"y":{"field":"v"}}}]},
 {"transform":[{"filter":"datum.a=='NAI'"}],"encoding":{
  "x":{"field":"g","type":"nominal","scale":{"type":"band","domain":["Cntls","Cases"],"range":[1079.7,1214.7],"paddingInner":0,"paddingOuter":0.08,"align":0},"axis":{"orient":"bottom","offset":-395.7,"title":null}},
  "y":{"field":"med","type":"quantitative","scale":{"type":"log","base":2,"domain":[3.536,19500],"range":[492.3,317.3],"nice":false,"zero":false},"axis":{"orient":"right","offset":-69.3,"values":[5,10,20,40,80,160,320,640,1280,2560,5120,10240],"labelExpr":"''+datum.value","title":null}}},
  "layer":[{"transform":[{"filter":"datum.k=='box'"}],"layer":[
   {"mark":{"type":"rule","strokeDash":[4,3],"color":"#222"},"encoding":{"y":{"field":"lo"},"y2":{"field":"q1"}}},
   {"mark":{"type":"rule","strokeDash":[4,3],"color":"#222"},"encoding":{"y":{"field":"q3"},"y2":{"field":"hi"}}},
   {"mark":{"type":"bar","width":50,"fill":"white","stroke":"#222","strokeWidth":1},"encoding":{"y":{"field":"q1"},"y2":{"field":"q3"}}},
   {"mark":{"type":"tick","size":25,"thickness":1,"color":"#222","opacity":1},"encoding":{"y":{"field":"lo"}}},
   {"mark":{"type":"tick","size":25,"thickness":1,"color":"#222","opacity":1},"encoding":{"y":{"field":"hi"}}},
   {"mark":{"type":"tick","size":50,"thickness":3.5,"color":"#111","opacity":1},"encoding":{"y":{"field":"med"}}}]},
   {"transform":[{"filter":"datum.k=='out'"}],"mark":{"type":"point","shape":"circle","filled":false,"size":24,"strokeWidth":1,"color":"#111","opacity":1},"encoding":{"y":{"field":"v"}}}]},
 {"data":{"values":[{}]},"mark":{"type":"rule","strokeDash":[1.5,2],"color":"#222","strokeWidth":1},"encoding":{
  "x":{"datum":2.5,"type":"quantitative","scale":{"domain":[0.34,4.66],"range":[944.7,1214.7],"nice":false,"zero":false},"axis":{"orient":"top","offset":-317.3,"values":[1.5,3.5],"labelExpr":"datum.value < 2.5 ? 'HAI' : 'NAI'","ticks":false,"tickSize":0,"labelPadding":6,"labelBaseline":"alphabetic","labelFontSize":16,"title":null}},
  "y":{"datum":0,"type":"quantitative","scale":{"domain":[0,1],"range":[492.3,317.3],"nice":false,"zero":false},"axis":null},
  "y2":{"datum":1}}}
]},
{"transform":[{"filter":"datum.t=='Placebo' && datum.m=='FR'"}],"resolve":{"scale":{"x":"independent","y":"independent"}},"layer":[
 {"transform":[{"filter":"datum.a=='HAI'"}],"encoding":{
  "x":{"field":"g","type":"nominal","scale":{"type":"band","domain":["Cntls","Cases"],"range":[103,238],"paddingInner":0,"paddingOuter":0.08,"align":1},"axis":{"orient":"bottom","offset":-154.7,"title":null}},
  "y":{"field":"med","type":"quantitative","scale":{"type":"log","base":2,"domain":[0.03974,3500],"range":[733.3,557.3],"nice":false,"zero":false},"axis":{"orient":"left","offset":-103,"values":[0.0625,0.25,1,4,16,64,256,1024],"labelExpr":"''+datum.value","title":"Fold−Rise","titleX":-75,"titleAngle":-90,"titleBaseline":"middle","titleAlign":"center","titleFontSize":19}}},
  "layer":[{"transform":[{"filter":"datum.k=='box'"}],"layer":[
   {"mark":{"type":"rule","strokeDash":[4,3],"color":"#222"},"encoding":{"y":{"field":"lo"},"y2":{"field":"q1"}}},
   {"mark":{"type":"rule","strokeDash":[4,3],"color":"#222"},"encoding":{"y":{"field":"q3"},"y2":{"field":"hi"}}},
   {"mark":{"type":"bar","width":50,"fill":"white","stroke":"#222","strokeWidth":1},"encoding":{"y":{"field":"q1"},"y2":{"field":"q3"}}},
   {"mark":{"type":"tick","size":25,"thickness":1,"color":"#222","opacity":1},"encoding":{"y":{"field":"lo"}}},
   {"mark":{"type":"tick","size":25,"thickness":1,"color":"#222","opacity":1},"encoding":{"y":{"field":"hi"}}},
   {"mark":{"type":"tick","size":50,"thickness":3.5,"color":"#111","opacity":1},"encoding":{"y":{"field":"med"}}}]},
   {"transform":[{"filter":"datum.k=='out'"}],"mark":{"type":"point","shape":"circle","filled":false,"size":24,"strokeWidth":1,"color":"#111","opacity":1},"encoding":{"y":{"field":"v"}}}]},
 {"transform":[{"filter":"datum.a=='NAI'"}],"encoding":{
  "x":{"field":"g","type":"nominal","scale":{"type":"band","domain":["Cntls","Cases"],"range":[238,373],"paddingInner":0,"paddingOuter":0.08,"align":0},"axis":{"orient":"bottom","offset":-154.7,"title":null}},
  "y":{"field":"med","type":"quantitative","scale":{"type":"log","base":2,"domain":[0.03974,3500],"range":[733.3,557.3],"nice":false,"zero":false},"axis":{"orient":"right","offset":-911,"values":[1],"labels":false,"ticks":false,"title":null}}},
  "layer":[{"transform":[{"filter":"datum.k=='box'"}],"layer":[
   {"mark":{"type":"rule","strokeDash":[4,3],"color":"#222"},"encoding":{"y":{"field":"lo"},"y2":{"field":"q1"}}},
   {"mark":{"type":"rule","strokeDash":[4,3],"color":"#222"},"encoding":{"y":{"field":"q3"},"y2":{"field":"hi"}}},
   {"mark":{"type":"bar","width":50,"fill":"white","stroke":"#222","strokeWidth":1},"encoding":{"y":{"field":"q1"},"y2":{"field":"q3"}}},
   {"mark":{"type":"tick","size":25,"thickness":1,"color":"#222","opacity":1},"encoding":{"y":{"field":"lo"}}},
   {"mark":{"type":"tick","size":25,"thickness":1,"color":"#222","opacity":1},"encoding":{"y":{"field":"hi"}}},
   {"mark":{"type":"tick","size":50,"thickness":3.5,"color":"#111","opacity":1},"encoding":{"y":{"field":"med"}}}]},
   {"transform":[{"filter":"datum.k=='out'"}],"mark":{"type":"point","shape":"circle","filled":false,"size":24,"strokeWidth":1,"color":"#111","opacity":1},"encoding":{"y":{"field":"v"}}}]},
 {"data":{"values":[{}]},"mark":{"type":"rule","strokeDash":[1.5,2],"color":"#222","strokeWidth":1},"encoding":{
  "x":{"datum":2.5,"type":"quantitative","scale":{"domain":[0.34,4.66],"range":[103,373],"nice":false,"zero":false},"axis":{"orient":"top","offset":-557.3,"values":[1.5,3.5],"labelExpr":"datum.value < 2.5 ? 'HAI' : 'NAI'","ticks":false,"tickSize":0,"labelPadding":6,"labelBaseline":"alphabetic","labelFontSize":16,"title":null}},
  "y":{"datum":0,"type":"quantitative","scale":{"domain":[0,1],"range":[733.3,557.3],"nice":false,"zero":false},"axis":null},
  "y2":{"datum":1}}}
]},
{"transform":[{"filter":"datum.t=='Live' && datum.m=='FR'"}],"resolve":{"scale":{"x":"independent","y":"independent"}},"layer":[
 {"transform":[{"filter":"datum.a=='HAI'"}],"encoding":{
  "x":{"field":"g","type":"nominal","scale":{"type":"band","domain":["Cntls","Cases"],"range":[535.3,670.3],"paddingInner":0,"paddingOuter":0.08,"align":1},"axis":{"orient":"bottom","offset":-154.7,"title":null}},
  "y":{"field":"med","type":"quantitative","scale":{"type":"log","base":2,"domain":[0.03974,3500],"range":[733.3,557.3],"nice":false,"zero":false},"axis":{"orient":"left","offset":-535.3,"values":[0.0625,0.25,1,4,16,64,256,1024],"labelExpr":"''+datum.value","title":null}}},
  "layer":[{"transform":[{"filter":"datum.k=='box'"}],"layer":[
   {"mark":{"type":"rule","strokeDash":[4,3],"color":"#222"},"encoding":{"y":{"field":"lo"},"y2":{"field":"q1"}}},
   {"mark":{"type":"rule","strokeDash":[4,3],"color":"#222"},"encoding":{"y":{"field":"q3"},"y2":{"field":"hi"}}},
   {"mark":{"type":"bar","width":50,"fill":"white","stroke":"#222","strokeWidth":1},"encoding":{"y":{"field":"q1"},"y2":{"field":"q3"}}},
   {"mark":{"type":"tick","size":25,"thickness":1,"color":"#222","opacity":1},"encoding":{"y":{"field":"lo"}}},
   {"mark":{"type":"tick","size":25,"thickness":1,"color":"#222","opacity":1},"encoding":{"y":{"field":"hi"}}},
   {"mark":{"type":"tick","size":50,"thickness":3.5,"color":"#111","opacity":1},"encoding":{"y":{"field":"med"}}}]},
   {"transform":[{"filter":"datum.k=='out'"}],"mark":{"type":"point","shape":"circle","filled":false,"size":24,"strokeWidth":1,"color":"#111","opacity":1},"encoding":{"y":{"field":"v"}}}]},
 {"transform":[{"filter":"datum.a=='NAI'"}],"encoding":{
  "x":{"field":"g","type":"nominal","scale":{"type":"band","domain":["Cntls","Cases"],"range":[670.3,805.3],"paddingInner":0,"paddingOuter":0.08,"align":0},"axis":{"orient":"bottom","offset":-154.7,"title":null}},
  "y":{"field":"med","type":"quantitative","scale":{"type":"log","base":2,"domain":[0.03974,3500],"range":[733.3,557.3],"nice":false,"zero":false},"axis":{"orient":"right","offset":-478.7,"values":[1],"labels":false,"ticks":false,"title":null}}},
  "layer":[{"transform":[{"filter":"datum.k=='box'"}],"layer":[
   {"mark":{"type":"rule","strokeDash":[4,3],"color":"#222"},"encoding":{"y":{"field":"lo"},"y2":{"field":"q1"}}},
   {"mark":{"type":"rule","strokeDash":[4,3],"color":"#222"},"encoding":{"y":{"field":"q3"},"y2":{"field":"hi"}}},
   {"mark":{"type":"bar","width":50,"fill":"white","stroke":"#222","strokeWidth":1},"encoding":{"y":{"field":"q1"},"y2":{"field":"q3"}}},
   {"mark":{"type":"tick","size":25,"thickness":1,"color":"#222","opacity":1},"encoding":{"y":{"field":"lo"}}},
   {"mark":{"type":"tick","size":25,"thickness":1,"color":"#222","opacity":1},"encoding":{"y":{"field":"hi"}}},
   {"mark":{"type":"tick","size":50,"thickness":3.5,"color":"#111","opacity":1},"encoding":{"y":{"field":"med"}}}]},
   {"transform":[{"filter":"datum.k=='out'"}],"mark":{"type":"point","shape":"circle","filled":false,"size":24,"strokeWidth":1,"color":"#111","opacity":1},"encoding":{"y":{"field":"v"}}}]},
 {"data":{"values":[{}]},"mark":{"type":"rule","strokeDash":[1.5,2],"color":"#222","strokeWidth":1},"encoding":{
  "x":{"datum":2.5,"type":"quantitative","scale":{"domain":[0.34,4.66],"range":[535.3,805.3],"nice":false,"zero":false},"axis":{"orient":"top","offset":-557.3,"values":[1.5,3.5],"labelExpr":"datum.value < 2.5 ? 'HAI' : 'NAI'","ticks":false,"tickSize":0,"labelPadding":6,"labelBaseline":"alphabetic","labelFontSize":16,"title":null}},
  "y":{"datum":0,"type":"quantitative","scale":{"domain":[0,1],"range":[733.3,557.3],"nice":false,"zero":false},"axis":null},
  "y2":{"datum":1}}}
]},
{"transform":[{"filter":"datum.t=='Inactivated' && datum.m=='FR'"}],"resolve":{"scale":{"x":"independent","y":"independent"}},"layer":[
 {"transform":[{"filter":"datum.a=='HAI'"}],"encoding":{
  "x":{"field":"g","type":"nominal","scale":{"type":"band","domain":["Cntls","Cases"],"range":[944.7,1079.7],"paddingInner":0,"paddingOuter":0.08,"align":1},"axis":{"orient":"bottom","offset":-154.7,"title":null}},
  "y":{"field":"med","type":"quantitative","scale":{"type":"log","base":2,"domain":[0.03974,3500],"range":[733.3,557.3],"nice":false,"zero":false},"axis":{"orient":"left","offset":-944.7,"values":[0.0625,0.25,1,4,16,64,256,1024],"labelExpr":"''+datum.value","title":null}}},
  "layer":[{"transform":[{"filter":"datum.k=='box'"}],"layer":[
   {"mark":{"type":"rule","strokeDash":[4,3],"color":"#222"},"encoding":{"y":{"field":"lo"},"y2":{"field":"q1"}}},
   {"mark":{"type":"rule","strokeDash":[4,3],"color":"#222"},"encoding":{"y":{"field":"q3"},"y2":{"field":"hi"}}},
   {"mark":{"type":"bar","width":50,"fill":"white","stroke":"#222","strokeWidth":1},"encoding":{"y":{"field":"q1"},"y2":{"field":"q3"}}},
   {"mark":{"type":"tick","size":25,"thickness":1,"color":"#222","opacity":1},"encoding":{"y":{"field":"lo"}}},
   {"mark":{"type":"tick","size":25,"thickness":1,"color":"#222","opacity":1},"encoding":{"y":{"field":"hi"}}},
   {"mark":{"type":"tick","size":50,"thickness":3.5,"color":"#111","opacity":1},"encoding":{"y":{"field":"med"}}}]},
   {"transform":[{"filter":"datum.k=='out'"}],"mark":{"type":"point","shape":"circle","filled":false,"size":24,"strokeWidth":1,"color":"#111","opacity":1},"encoding":{"y":{"field":"v"}}}]},
 {"transform":[{"filter":"datum.a=='NAI'"}],"encoding":{
  "x":{"field":"g","type":"nominal","scale":{"type":"band","domain":["Cntls","Cases"],"range":[1079.7,1214.7],"paddingInner":0,"paddingOuter":0.08,"align":0},"axis":{"orient":"bottom","offset":-154.7,"title":null}},
  "y":{"field":"med","type":"quantitative","scale":{"type":"log","base":2,"domain":[0.03974,3500],"range":[733.3,557.3],"nice":false,"zero":false},"axis":{"orient":"right","offset":-69.3,"values":[1],"labels":false,"ticks":false,"title":null}}},
  "layer":[{"transform":[{"filter":"datum.k=='box'"}],"layer":[
   {"mark":{"type":"rule","strokeDash":[4,3],"color":"#222"},"encoding":{"y":{"field":"lo"},"y2":{"field":"q1"}}},
   {"mark":{"type":"rule","strokeDash":[4,3],"color":"#222"},"encoding":{"y":{"field":"q3"},"y2":{"field":"hi"}}},
   {"mark":{"type":"bar","width":50,"fill":"white","stroke":"#222","strokeWidth":1},"encoding":{"y":{"field":"q1"},"y2":{"field":"q3"}}},
   {"mark":{"type":"tick","size":25,"thickness":1,"color":"#222","opacity":1},"encoding":{"y":{"field":"lo"}}},
   {"mark":{"type":"tick","size":25,"thickness":1,"color":"#222","opacity":1},"encoding":{"y":{"field":"hi"}}},
   {"mark":{"type":"tick","size":50,"thickness":3.5,"color":"#111","opacity":1},"encoding":{"y":{"field":"med"}}}]},
   {"transform":[{"filter":"datum.k=='out'"}],"mark":{"type":"point","shape":"circle","filled":false,"size":24,"strokeWidth":1,"color":"#111","opacity":1},"encoding":{"y":{"field":"v"}}}]},
 {"data":{"values":[{}]},"mark":{"type":"rule","strokeDash":[1.5,2],"color":"#222","strokeWidth":1},"encoding":{
  "x":{"datum":2.5,"type":"quantitative","scale":{"domain":[0.34,4.66],"range":[944.7,1214.7],"nice":false,"zero":false},"axis":{"orient":"top","offset":-557.3,"values":[1.5,3.5],"labelExpr":"datum.value < 2.5 ? 'HAI' : 'NAI'","ticks":false,"tickSize":0,"labelPadding":6,"labelBaseline":"alphabetic","labelFontSize":16,"title":null}},
  "y":{"datum":0,"type":"quantitative","scale":{"domain":[0,1],"range":[733.3,557.3],"nice":false,"zero":false},"axis":null},
  "y2":{"datum":1}}}
]},
{"data":{"values":[
 {"line":1,"part":"lab","txt":"Fig. 1"},
 {"line":1,"part":"first","txt":"Boxplots of Day 0, Day 30, and fold-rise HAI and NAI titers by treatment group (Placebo, LAIV, IIV) and influenza case-control outcome status."},
 {"line":2,"part":"body","txt":"Boxplots of HAI and NAI titers by treatment group and influenza case-control outcome status. Day 0 titers (top row), Day 30 titers (middle row), and"},
 {"line":3,"part":"body","txt":"titer fold-rise (Day 30 / Day 0) are shown for participants assigned to placebo (left column), live attenuated influenza vaccine (middle column), or"},
 {"line":4,"part":"body","txt":"inactivated influenza vaccine (right column)"}]},
 "encoding":{
  "x":{"datum":0,"type":"quantitative","scale":{"domain":[0,1],"range":[41,1284],"nice":false,"zero":false},"axis":null},
  "y":{"field":"line","type":"quantitative","scale":{"domain":[1,4],"range":[802,876],"nice":false,"zero":false},"axis":null},
  "text":{"field":"txt"}},
 "layer":[
  {"transform":[{"filter":"datum.part=='lab'"}],"mark":{"type":"text","align":"left","baseline":"middle","font":"Liberation Sans","fontSize":18,"fontWeight":"bold","color":"#231f20"}},
  {"transform":[{"filter":"datum.part=='first'"}],"mark":{"type":"text","align":"left","baseline":"middle","font":"Liberation Sans","fontSize":18,"color":"#231f20","dx":52}},
  {"transform":[{"filter":"datum.part=='body'"}],"mark":{"type":"text","align":"left","baseline":"middle","font":"Liberation Sans","fontSize":18,"color":"#231f20"}}]}
]
}
